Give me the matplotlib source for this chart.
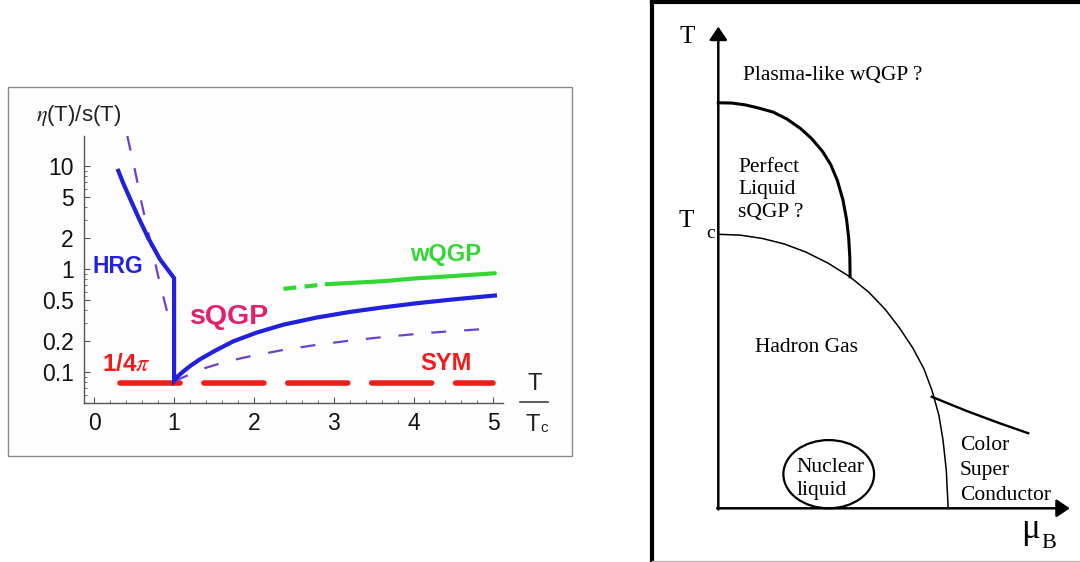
import matplotlib
matplotlib.use("Agg")
import matplotlib.pyplot as plt
from matplotlib.patches import Ellipse, Rectangle
from matplotlib.lines import Line2D
from matplotlib.ticker import MultipleLocator, LogLocator, FixedLocator, NullFormatter

plt.rcParams['mathtext.fontset'] = 'stix'

# ---- left panel data: eta/s vs T/Tc ----
# solid blue: HRG branch, drop at Tc, sQGP branch
blue_x = [0.301, 0.364, 0.447, 0.552, 0.677, 0.823, 1.0, 1.0, 1.05, 1.115, 1.2, 1.325, 1.5,
          1.742, 2.035, 2.37, 2.787, 3.2, 3.6, 4.04, 4.5, 5.02]
blue_y = [9.0, 6.8, 4.86, 3.2, 2.0, 1.25, 0.82, 0.083, 0.092, 0.102, 0.115, 0.134, 0.160,
          0.200, 0.243, 0.29, 0.34, 0.385, 0.425, 0.468, 0.51, 0.556]

# dashed purple
dash_left_x = [0.414, 0.51, 0.594, 0.698, 0.802, 0.927]
dash_left_y = [19.6, 9.1, 4.35, 1.92, 0.85, 0.35]
dash_right_x = [1.0, 1.15, 1.387, 1.65, 1.95, 2.35, 2.787, 3.2, 3.62, 4.2, 4.875]
dash_right_y = [0.082, 0.092, 0.110, 0.127, 0.143, 0.164, 0.185, 0.203, 0.22, 0.242, 0.263]

# green wQGP
wqgp_dash_x = [2.37, 2.91]
wqgp_dash_y = [0.645, 0.716]
wqgp_x = [2.91, 3.62, 4.04, 4.46, 5.02]
wqgp_y = [0.716, 0.766, 0.817, 0.855, 0.914]

# red 1/4pi bound
sym_x = [0.32, 4.99]
sym_y = [0.0796, 0.0796]

x_ticks = [0, 1, 2, 3, 4, 5]
y_ticks = [0.1, 0.2, 0.5, 1, 2, 5, 10]
y_ticklabels = ['0.1', '0.2', '0.5', '1', '2', '5', '10']

# ---- right panel data: phase diagram (mu_B, T in units of Tc) ----
upper_mu = [0.0, 0.05, 0.10, 0.15, 0.20, 0.25, 0.30, 0.34, 0.38, 0.41, 0.435, 0.455, 0.468, 0.476, 0.480, 0.481]
upper_T = [1.480, 1.479, 1.472, 1.460, 1.446, 1.421, 1.386, 1.350, 1.303, 1.255, 1.195, 1.125, 1.055, 0.985, 0.915, 0.845]

tc_mu = [0.0, 0.08, 0.16, 0.24, 0.32, 0.40, 0.48, 0.55, 0.61, 0.66, 0.71, 0.75, 0.78, 0.805, 0.82, 0.832, 0.839]
tc_T = [1.0, 0.997, 0.985, 0.965, 0.935, 0.895, 0.845, 0.788, 0.725, 0.66, 0.585, 0.51, 0.43, 0.34, 0.25, 0.14, 0.0]

csc_mu = [0.779, 0.907, 1.028, 1.131]
csc_T = [0.407, 0.355, 0.310, 0.274]

nuc_center = (0.403, 0.1245)
nuc_w, nuc_h = 0.331, 0.249

W, H = 1080, 562
def fx(x):
    return x / W
def fy(y):
    return 1 - y / H

fig = plt.figure(figsize=(10.8, 5.62), dpi=100)

# left panel background frame
fig.patches.append(Rectangle((fx(8), fy(456)), fx(572) - fx(8), fy(87) - fy(456),
                             transform=fig.transFigure, facecolor='#fdfdfd',
                             edgecolor='#8a8a8a', lw=1.0, zorder=-10))

ax = fig.add_axes([fx(83.5), fy(402.5), fx(503.3) - fx(83.5), fy(136) - fy(402.5)])
ax.set_facecolor('none')
ax.set_yscale('log')
ax.set_xlim(-0.135, 5.125)
ax.set_ylim(0.051, 19.6)

ax.plot(sym_x, sym_y, color='#f01c1c', lw=4, dashes=(10.8, 4.3), dash_capstyle='round')
ax.plot(dash_left_x, dash_left_y, color='#6b3fd6', lw=1.6, dashes=(6.7, 8.1))
ax.plot(dash_right_x, dash_right_y, color='#6b3fd6', lw=1.6, dashes=(6.7, 8.1))
ax.plot(wqgp_dash_x, wqgp_dash_y, color='#33d633', lw=3, dashes=(3.1, 2.0))
ax.plot(wqgp_x, wqgp_y, color='#33d633', lw=3, solid_capstyle='round')
ax.plot(blue_x, blue_y, color='#2020dd', lw=3, solid_joinstyle='miter')

for s in ['top', 'right']:
    ax.spines[s].set_visible(False)
for s in ['left', 'bottom']:
    ax.spines[s].set_color('#555555')
    ax.spines[s].set_linewidth(1.0)

ax.xaxis.set_major_locator(FixedLocator(x_ticks))
ax.xaxis.set_minor_locator(MultipleLocator(0.2))
ax.set_xticklabels([str(t) for t in x_ticks])
ax.yaxis.set_major_locator(FixedLocator(y_ticks))
ax.set_yticklabels(y_ticklabels)
ax.yaxis.set_minor_locator(LogLocator(base=10, subs=[3, 4, 6, 7, 8, 9]))
ax.yaxis.set_minor_formatter(NullFormatter())
ax.tick_params(which='major', direction='in', length=4, width=0.8, color='#555555',
               labelsize=16.5, pad=7)
ax.tick_params(which='minor', direction='in', length=2.2, width=0.6, color='#555555')
for lab in ax.get_xticklabels() + ax.get_yticklabels():
    lab.set_fontfamily('Liberation Sans')
    lab.set_color('#111111')

sans = 'Liberation Sans'
fig.text(fx(36), fy(116), r'$\eta$(T)/s(T)', fontsize=16, family=sans, va='center', ha='left', color='#222222')
fig.text(fx(93), fy(273), 'HRG', fontsize=16.5, family=sans, weight='bold', color='#2222dd', va='baseline')
fig.text(fx(190), fy(323.5), 'sQGP', fontsize=20.5, family=sans, weight='bold', color='#e3206e', va='baseline')
fig.text(fx(410), fy(261), 'wQGP', fontsize=17, family=sans, weight='bold', color='#33d633', va='baseline')
fig.text(fx(420), fy(370), 'SYM', fontsize=17, family=sans, weight='bold', color='#f01c1c', va='baseline')
fig.text(fx(102), fy(371), r'1/4$\pi$', fontsize=17.5, family=sans, weight='bold', color='#f01c1c', va='baseline')
fig.text(fx(534.5), fy(390), 'T', fontsize=17, family=sans, ha='center', va='baseline', color='#222222')
fig.add_artist(Line2D([fx(520), fx(548)], [fy(402.3), fy(402.3)], transform=fig.transFigure,
                      color='#444444', lw=1.2))
fig.text(fx(525), fy(431), 'T', fontsize=17, family=sans, ha='left', va='baseline', color='#222222')
fig.text(fx(540), fy(432), 'c', fontsize=11, family=sans, ha='left', va='baseline', color='#222222')

# ---- right panel ----
ax2 = fig.add_axes([fx(652), fy(560.5), fx(1080) - fx(652), fy(2) - fy(560.5)])
ax2.set_xlim(-0.2420, 1.3201)
ax2.set_ylim(-0.1905, 1.8478)
ax2.set_xticks([])
ax2.set_yticks([])
ax2.spines['right'].set_visible(False)
ax2.spines['left'].set_linewidth(3)
ax2.spines['top'].set_linewidth(3)
ax2.spines['bottom'].set_color('#bbbbbb')
ax2.spines['bottom'].set_linewidth(1)

arrow = dict(arrowstyle='-|>,head_length=0.4,head_width=0.27', lw=1.8, color='black',
             mutation_scale=20, shrinkA=0, shrinkB=0)
ax2.annotate('', xy=(0, 1.758), xytext=(0, -0.004), arrowprops=arrow)
ax2.annotate('', xy=(1.283, 0), xytext=(-0.004, 0), arrowprops=arrow)

ax2.plot(upper_mu, upper_T, color='black', lw=2.2)
ax2.plot(tc_mu, tc_T, color='black', lw=1.1)
ax2.plot(csc_mu, csc_T, color='black', lw=1.7)
ax2.add_patch(Ellipse(nuc_center, nuc_w, nuc_h, facecolor='none', edgecolor='black', lw=1.6))

serif = 'Liberation Serif'
fs = 15.5
fig.text(fx(687), fy(43), 'T', fontsize=18, family=serif, ha='center', va='baseline')
fig.text(fx(686.5), fy(227), 'T', fontsize=18, family=serif, ha='center', va='baseline')
fig.text(fx(706), fy(238.5), 'c', fontsize=14, family=serif, ha='left', va='baseline')
fig.text(fx(743), fy(80), 'Plasma-like wQGP ?', fontsize=fs, family=serif, va='baseline')
fig.text(fx(738), fy(171.5), 'Perfect', fontsize=fs, family=serif, va='baseline')
fig.text(fx(738), fy(194), 'Liquid', fontsize=fs, family=serif, va='baseline')
fig.text(fx(738), fy(217), 'sQGP ?', fontsize=fs, family=serif, va='baseline')
fig.text(fx(755), fy(351.5), 'Hadron Gas', fontsize=fs, family=serif, va='baseline')
fig.text(fx(960), fy(450), 'Color', fontsize=fs, family=serif, va='baseline')
fig.text(fx(960), fy(474.5), 'Super', fontsize=fs, family=serif, va='baseline')
fig.text(fx(960), fy(500), 'Conductor', fontsize=fs, family=serif, va='baseline')
fig.text(fx(796.7), fy(471.5), 'Nuclear', fontsize=fs, family=serif, va='baseline')
fig.text(fx(796.7), fy(494.5), 'liquid', fontsize=fs, family=serif, va='baseline')
fig.text(fx(1021), fy(538), 'μ', fontsize=25, family=serif, va='baseline')
fig.text(fx(1041), fy(548), 'B', fontsize=16, family=serif, va='baseline')

fig.savefig('out.png', dpi=100)
